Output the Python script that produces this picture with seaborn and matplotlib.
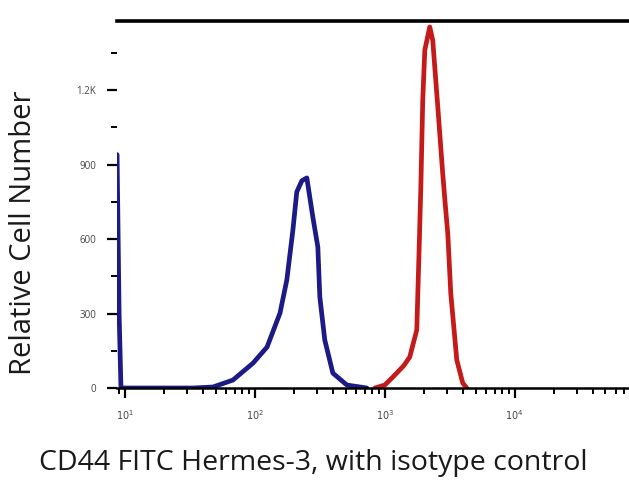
import matplotlib
matplotlib.use("Agg")
import matplotlib.pyplot as plt
import seaborn as sns
import numpy as np
import pandas as pd
from matplotlib.ticker import FixedLocator, NullFormatter

# --- DATA ---
blue_fl = [8.68, 9.0, 9.3, 33.4, 47.5, 67.7, 96.6, 124, 156, 176, 196, 210,
           230, 251, 279, 305, 316, 345, 398, 510, 727]
blue_count = [940, 300, 0, 0, 4, 32, 100, 165, 302, 435, 636, 790,
              835, 846, 689, 568, 366, 193, 60, 12, 0]

red_fl = [838, 1000, 1153, 1400, 1556, 1762, 1828, 1892, 1959, 2032, 2218, 2339,
          2559, 2786, 2897, 3055, 3221, 3581, 3981, 4276]
red_count = [0, 12, 44, 90, 125, 234, 520, 800, 1160, 1361, 1454, 1400,
             1131, 869, 760, 620, 380, 113, 20, 0]

y_ticks = [0, 300, 600, 900, 1200]
y_ticklabels = ['0', '300', '600', '900', '1.2K']
x_ticks = [10, 100, 1000, 10000]
x_ticklabels = ['$10^{1}$', '$10^{2}$', '$10^{3}$', '$10^{4}$']

sns.set_style("white")
plt.rcParams['font.family'] = ['Open Sans', 'DejaVu Sans']

df_blue = pd.DataFrame({'fl': blue_fl, 'count': blue_count})
df_red = pd.DataFrame({'fl': red_fl, 'count': red_count})

fig = plt.figure(figsize=(6.29, 4.86), dpi=100)
ax = fig.add_axes([117 / 629, 1 - 388 / 486, 1 - 117 / 629, (388 - 21) / 486])

sns.lineplot(data=df_blue, x='fl', y='count', ax=ax, color='#1b1a86',
             linewidth=3.4, sort=False, estimator=None)
sns.lineplot(data=df_red, x='fl', y='count', ax=ax, color='#c41a1a',
             linewidth=3.4, sort=False, estimator=None)

ax.set_xscale('log')
ax.set_xlim(10 ** 0.938, 10 ** 4.88)
ax.set_ylim(0, 1478)

ax.set_xticks(x_ticks)
ax.set_xticklabels(x_ticklabels)
minor = [m * 10 ** d for d in range(0, 5) for m in range(2, 10)]
ax.xaxis.set_minor_locator(FixedLocator(minor))
ax.xaxis.set_minor_formatter(NullFormatter())
ax.set_yticks(y_ticks)
ax.set_yticklabels(y_ticklabels)
ax.yaxis.set_minor_locator(FixedLocator([150, 450, 750, 1050, 1350]))

ax.tick_params(axis='both', which='major', direction='out', length=7, width=1.6,
               color='black', labelsize=7, labelcolor='#444444', pad=8,
               bottom=True, left=True)
ax.tick_params(axis='both', which='minor', direction='out', length=4, width=1.4,
               color='black', bottom=True, left=True)

for side in ['left', 'right']:
    ax.spines[side].set_visible(False)
ax.spines['top'].set_linewidth(2.6)
ax.spines['top'].set_color('black')
ax.spines['bottom'].set_linewidth(1.8)
ax.spines['bottom'].set_color('black')

ax.set_xlabel('CD44 FITC Hermes-3, with isotype control', fontsize=20.5,
              color='#1a1a1a')
ax.set_ylabel('Relative Cell Number', fontsize=21, color='#1a1a1a')
ax.xaxis.set_label_coords((313 - 117) / 512, (388 - 449) / 367)
ax.yaxis.set_label_coords((38 - 117) / 512, (388 - 233) / 367)

fig.savefig('out.png', dpi=100)
